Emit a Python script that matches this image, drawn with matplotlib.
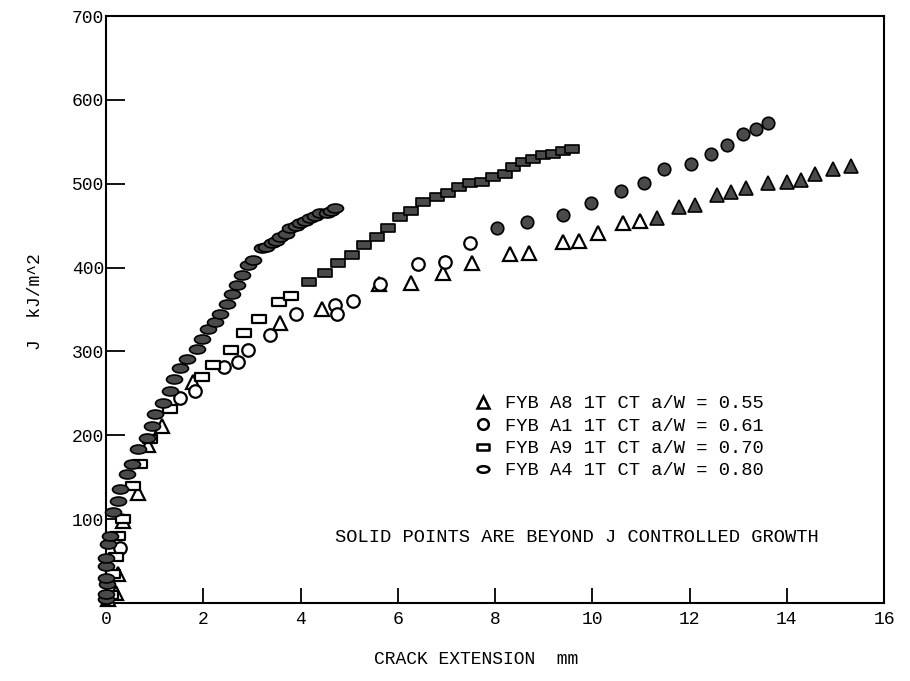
import matplotlib

matplotlib.use("Agg")

import matplotlib.pyplot as plt
import numpy as np
from matplotlib.lines import Line2D
from matplotlib.path import Path

# crack extension (mm) and J (kJ/m^2) for each specimen; the first n_open
# points of a series are within J controlled growth (open symbols)
a8_x = [0.05, 0.2, 0.25, 0.35, 0.65, 0.86, 1.15, 1.79, 3.58, 4.44, 5.61, 6.27,
        6.93, 7.52, 8.30, 8.69, 9.39, 9.72, 10.11, 10.63, 10.98,
        11.33, 11.78, 12.11, 12.56, 12.85, 13.16, 13.61, 14.0, 14.29, 14.57,
        14.94, 15.31]
a8_j = [5, 12, 35, 98, 131, 188, 211, 263, 334, 351, 381, 382,
        393, 405, 416, 417, 431, 432, 441, 453, 456,
        459, 472, 475, 487, 490, 495, 501, 502, 505, 512,
        518, 521]
a8_n_open = 21

a1_x = [0.0, 0.29, 1.52, 1.83, 2.43, 2.71, 2.92, 3.37, 3.91, 4.71, 4.75, 5.08,
        5.63, 6.41, 6.97, 7.48,
        8.04, 8.65, 9.39, 9.97, 10.59, 11.06, 11.47, 12.02, 12.44, 12.76,
        13.09, 13.36, 13.61]
a1_j = [6, 66, 244, 253, 282, 287, 302, 320, 345, 355, 345, 360,
        381, 404, 407, 429,
        447, 454, 463, 477, 491, 501, 517, 523, 535, 546,
        559, 565, 572]
a1_n_open = 16

a9_x = [0.1, 0.15, 0.2, 0.25, 0.35, 0.55, 0.7, 0.9, 1.32, 1.97, 2.20, 2.57,
        2.84, 3.14, 3.56, 3.80,
        4.17, 4.50, 4.77, 5.06, 5.30, 5.57, 5.80, 6.04, 6.27, 6.52, 6.80,
        7.03, 7.26, 7.48, 7.73, 7.95, 8.20, 8.37, 8.57, 8.78, 8.98, 9.19,
        9.39, 9.58]
a9_j = [10, 35, 55, 80, 100, 140, 166, 195, 231, 270, 284, 302,
        322, 339, 359, 366,
        383, 394, 405, 415, 427, 437, 447, 460, 468, 478, 484,
        489, 496, 501, 502, 508, 512, 520, 526, 530, 534, 536,
        539, 541]
a9_n_open = 16

a4_x = [0.0, 0.0, 0.02, 0.0, 0.0, 0.0, 0.04, 0.08, 0.15, 0.25, 0.29, 0.43,
        0.53, 0.66, 0.84, 0.95, 1.01, 1.17, 1.32, 1.40, 1.52, 1.66, 1.87,
        1.97, 2.10, 2.24, 2.34, 2.49, 2.59, 2.69, 2.80, 2.92, 3.02, 3.21,
        3.30, 3.41, 3.50, 3.58, 3.70, 3.78, 3.90, 3.99, 4.10, 4.19, 4.30,
        4.40, 4.54, 4.62, 4.71]
a4_j = [5, 11, 23, 30, 44, 54, 70, 80, 108, 122, 136, 154,
        166, 184, 197, 211, 226, 239, 253, 267, 280, 291, 303,
        315, 327, 335, 345, 357, 368, 379, 391, 403, 409, 423,
        425, 429, 432, 436, 440, 447, 450, 453, 455, 459, 462,
        465, 465, 468, 471]
a4_n_open = 0

legend_labels = [
    "FYB A8 1T CT a/W = 0.55",
    "FYB A1 1T CT a/W = 0.61",
    "FYB A9 1T CT a/W = 0.70",
    "FYB A4 1T CT a/W = 0.80",
]

x_ticks = [0, 2, 4, 6, 8, 10, 12, 14, 16]
y_ticks = [100, 200, 300, 400, 500, 600, 700]

MONO = "Liberation Mono"
SOLID = "#4a4a4a"

# flattened ellipse and flat box markers
circle = Path.unit_circle()
ellipse = Path(circle.vertices * np.array([1.0, 0.56]), circle.codes)
box = Path(
    [[-1, -0.55], [1, -0.55], [1, 0.55], [-1, 0.55], [-1, -0.55]],
    [Path.MOVETO, Path.LINETO, Path.LINETO, Path.LINETO, Path.CLOSEPOLY],
)

series = [
    (a8_x, a8_j, a8_n_open, "^", 10),
    (a1_x, a1_j, a1_n_open, "o", 9),
    (a9_x, a9_j, a9_n_open, box, 9.5),
    (a4_x, a4_j, a4_n_open, ellipse, 11.5),
]

fig = plt.figure(figsize=(9.1, 6.81), dpi=100)
ax = fig.add_axes([0.1165, 0.1145, 0.855, 0.862])

handles = []
for (xs, js, n_open, marker, size), label in zip(series, legend_labels):
    xs = np.asarray(xs)
    js = np.asarray(js)
    ax.plot(xs[:n_open], js[:n_open], linestyle="none", marker=marker,
            markersize=size, markerfacecolor="white", markeredgecolor="black",
            markeredgewidth=1.6, clip_on=False, zorder=3)
    ax.plot(xs[n_open:], js[n_open:], linestyle="none", marker=marker,
            markersize=size, markerfacecolor=SOLID, markeredgecolor="black",
            markeredgewidth=1.2, clip_on=False, zorder=3)
    handles.append(Line2D([], [], linestyle="none", marker=marker,
                          markersize=min(size, 10) * 0.85,
                          markerfacecolor="white", markeredgecolor="black",
                          markeredgewidth=1.8, label=label))

ax.set_xlim(0, 16)
ax.set_ylim(0, 700)
ax.set_xticks(x_ticks)
ax.set_yticks(y_ticks)
ax.tick_params(axis="x", direction="in", length=11, width=1.3, pad=6,
               labelsize=13)
ax.tick_params(axis="y", direction="in", length=14, width=1.3, pad=1.5,
               labelsize=13)
for lab in ax.get_xticklabels() + ax.get_yticklabels():
    lab.set_family(MONO)
for spine in ax.spines.values():
    spine.set_linewidth(1.5)

ax.set_xlabel("CRACK EXTENSION  mm", family=MONO, fontsize=13)
ax.xaxis.set_label_coords(0.476, -0.082)
ax.set_ylabel("J  kJ/m^2", family=MONO, fontsize=13)
ax.yaxis.set_label_coords(-0.08, 0.513)

ax.legend(handles=handles, loc="upper left", bbox_to_anchor=(0.46, 0.37),
          frameon=False, borderpad=0, handlelength=1.0, handletextpad=0.7,
          labelspacing=0.28, prop={"family": MONO, "size": 13.5})

ax.text(0.294, 0.112, "SOLID POINTS ARE BEYOND J CONTROLLED GROWTH",
        transform=ax.transAxes, family=MONO, fontsize=13.5, va="center")

fig.savefig("out.png", dpi=100)
